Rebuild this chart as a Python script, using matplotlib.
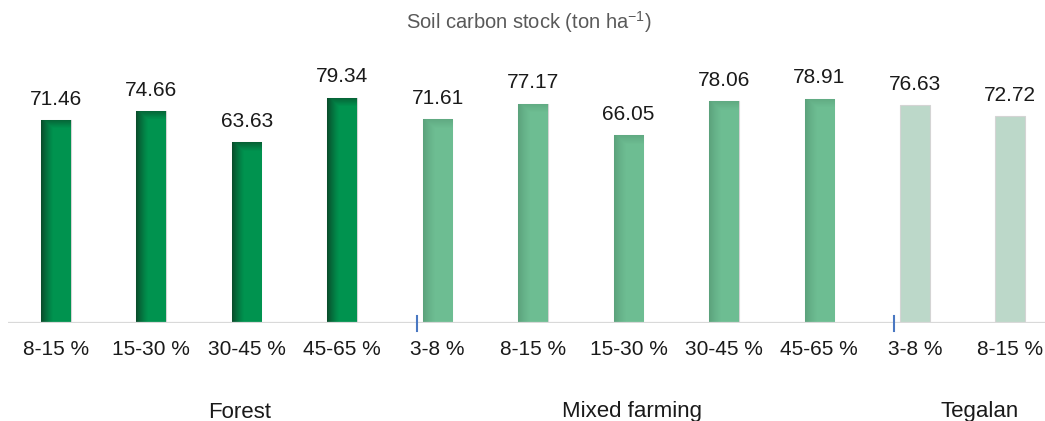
import numpy as np
import matplotlib.pyplot as plt
from matplotlib.colors import to_rgb

plt.rcParams['font.family'] = ['Liberation Sans', 'DejaVu Sans']

# soil carbon stock per land use and slope class
groups = ["Forest", "Mixed farming", "Tegalan"]
slopes_forest = ["8-15 %", "15-30 %", "30-45 %", "45-65 %"]
slopes_mixed = ["3-8 %", "8-15 %", "15-30 %", "30-45 %", "45-65 %"]
slopes_tegalan = ["3-8 %", "8-15 %"]
stock_forest = [71.46, 74.66, 63.63, 79.34]
stock_mixed = [71.61, 77.17, 66.05, 78.06, 78.91]
stock_tegalan = [76.63, 72.72]

labels = slopes_forest + slopes_mixed + slopes_tegalan
values = stock_forest + stock_mixed + stock_tegalan
sizes = [len(stock_forest), len(stock_mixed), len(stock_tegalan)]

# base colour, shade colour and shading strength for each group
styles = [("#00934f", "#0a4a2a", 1.0),
          ("#6dbd92", "#4f8f6c", 0.6),
          ("#bcd8c9", "#bcd8c9", 0.0)]

W, H = 1045, 421
fig = plt.figure(figsize=(W / 100, H / 100), dpi=100)
ax = fig.add_axes([8 / W, 98 / H, 1050 / W, 270 / H])

x = np.arange(len(values))
width = 0.31
colors = []
for st, n in zip(styles, sizes):
    colors += [st] * n

bars = ax.bar(x, values, width=width, color=[c[0] for c in colors],
              edgecolor='#d4d4d4', linewidth=0.8, zorder=2)


def shade_bar(patch, xc, h, base, shade, k):
    # cylinder-like shading: dark on the left, soft dark band on top
    nx, ny = 120, 600
    b = np.array(to_rgb(base))
    s = np.array(to_rgb(shade))
    u = np.linspace(0, 1, nx)
    side = np.clip(1 - u / 0.42, 0, 1) ** 1.3
    yy = np.linspace(h, 0, ny)
    top = np.clip(1 - (h - yy) / 3.2, 0, 1)
    t = k * np.maximum(side[None, :], 0.7 * top[:, None])
    img = b * (1 - t[..., None]) + s * t[..., None]
    im = ax.imshow(img, extent=[xc - width / 2, xc + width / 2, 0, h],
                   aspect='auto', interpolation='nearest', zorder=2.5)
    im.set_clip_path(patch)


for patch, xi, v, (base, shade, k) in zip(bars, x, values, colors):
    if k > 0:
        shade_bar(patch, xi, v, base, shade, k)

ax.set_xlim(-0.5, 10.5)
ax.set_ylim(0, 95)

for xi, v in zip(x, values):
    ax.annotate(f"{v:.2f}", (xi, v), xytext=(0, 11), textcoords='offset points',
                ha='center', va='baseline', fontsize=15, color='#1a1a1a')

for s in ax.spines.values():
    s.set_visible(False)
ax.axhline(0, color='#d9d9d9', lw=1.6, zorder=3)
ax.set_yticks([])
ax.set_xticks(x)
ax.set_xticklabels(labels, fontsize=15, color='#1a1a1a')
ax.tick_params(axis='x', length=0, pad=12)

# separators between land-use groups
starts = np.cumsum(sizes)[:-1]
for st in starts:
    ax.plot([st - 0.22, st - 0.22], [-2.9, 2.5], color='#4a78c2', lw=1.5,
            clip_on=False, zorder=4)

group_x = [1.93, 6.04, 9.68]
for gx, g in zip(group_x, groups):
    ax.text(gx, -0.35, g, transform=ax.get_xaxis_transform(), ha='center',
            va='baseline', fontsize=16, color='#1a1a1a')

fig.text(529 / W, 1 - 29 / H, "Soil carbon stock (ton ha$^{\\mathregular{-1}}$)",
         ha='center', va='baseline', fontsize=14.5, color='#595959')

fig.savefig("out.png", dpi=100)
